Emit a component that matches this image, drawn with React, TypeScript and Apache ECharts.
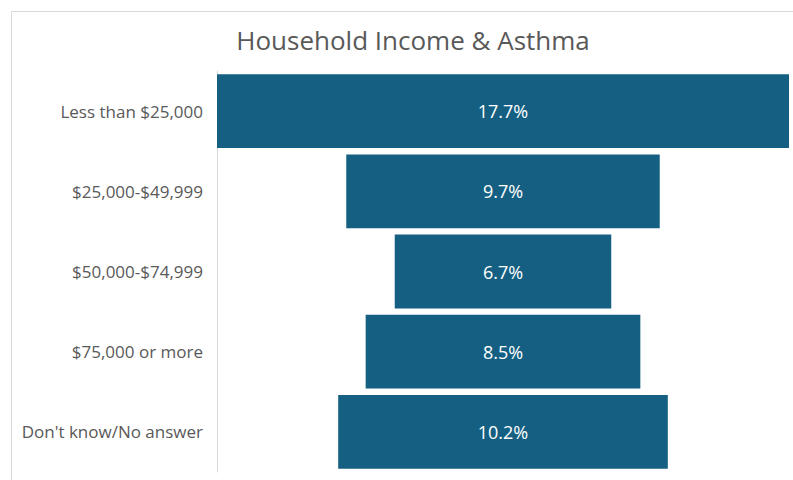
import React, { useEffect, useRef } from "react";
import * as echarts from "echarts";

const categories = [
  "Less than $25,000",
  "$25,000-$49,999",
  "$50,000-$74,999",
  "$75,000 or more",
  "Don't know/No answer",
];
const values = [17.7, 9.7, 6.7, 8.5, 10.2];
const title = "Household Income & Asthma";

export default function App() {
  const ref = useRef<HTMLDivElement>(null);
  useEffect(() => {
    if (!ref.current) return;
    const chart = echarts.init(ref.current, null, { renderer: "svg" });
    const maxV = Math.max(...values);
    const offsets = values.map((v) => (maxV - v) / 2);
    const font = "'Open Sans', sans-serif";
    chart.setOption({
      animation: false,
      title: {
        text: title,
        left: 408,
        textAlign: "center",
        top: 22,
        textStyle: { color: "#595959", fontSize: 26, fontWeight: "normal", fontFamily: font },
      },
      graphic: [
        {
          type: "rect",
          shape: { x: 11.5, y: 11.5, width: 800, height: 500 },
          style: { fill: "none", stroke: "#d9d9d9", lineWidth: 1 },
          silent: true,
        },
      ],
      grid: { left: 217, right: 4, top: 71, bottom: 8 },
      xAxis: { type: "value", min: 0, max: maxV, show: false },
      yAxis: {
        type: "category",
        data: categories,
        inverse: true,
        axisLine: { show: true, lineStyle: { color: "#d9d9d9" } },
        axisTick: { show: false },
        axisLabel: { color: "#595959", fontSize: 17, margin: 14, fontFamily: font },
      },
      series: [
        {
          type: "bar",
          stack: "f",
          data: offsets,
          itemStyle: { color: "transparent" },
          barCategoryGap: "8%",
          silent: true,
        },
        {
          type: "bar",
          stack: "f",
          data: values,
          itemStyle: { color: "#156082" },
          barCategoryGap: "8%",
          label: {
            show: true,
            position: "inside",
            color: "#ffffff",
            fontSize: 18,
            fontFamily: font,
            formatter: (p: any) => p.value.toFixed(1) + "%",
          },
        },
      ],
    });
    return () => chart.dispose();
  }, []);
  return (
    <div
      ref={ref}
      style={{ position: "fixed", left: 0, top: 0, width: 793, height: 480, background: "#fff" }}
    />
  );
}
